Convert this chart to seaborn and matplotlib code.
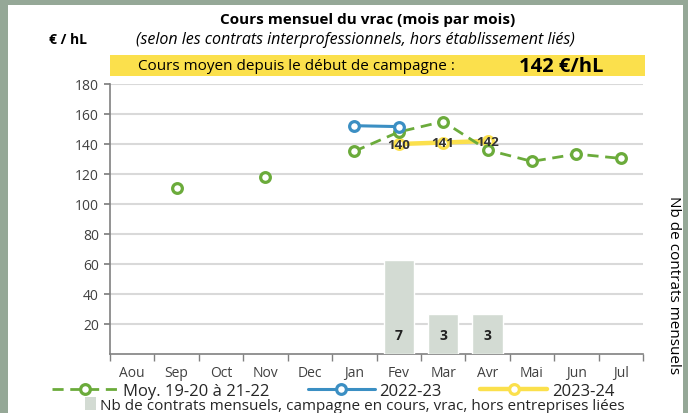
import numpy as np
import pandas as pd
import matplotlib.pyplot as plt
import seaborn as sns
from matplotlib.lines import Line2D
from matplotlib.patches import Rectangle

# values
months = ['Aou', 'Sep', 'Oct', 'Nov', 'Dec', 'Jan', 'Fev', 'Mar', 'Avr', 'Mai', 'Jun', 'Jul']
moy_3ans = [np.nan, 110.7, np.nan, 118.2, np.nan, 135.1, 148.0, 155.0, 136.0, 128.4, 133.3, 130.4]
camp_2223 = [np.nan, np.nan, np.nan, np.nan, np.nan, 152.2, 151.6, np.nan, np.nan, np.nan, np.nan, np.nan]
camp_2324 = [np.nan, np.nan, np.nan, np.nan, np.nan, np.nan, 140, 141, 142, np.nan, np.nan, np.nan]
bar_months = ['Fev', 'Mar', 'Avr']
nb_contrats = [7, 3, 3]
cours_moyen = 142

green = '#6bab3b'
blue = '#3b8fc3'
yellow = '#fbe04c'
bar_col = '#d3dbd3'
grid_col = '#d9d9d9'
txt_col = '#404040'

sns.set_theme(style='white')
plt.rcParams['font.family'] = ['Open Sans', 'DejaVu Sans']

W, H = 688, 414
fig = plt.figure(figsize=(W / 100, H / 100), dpi=100)
fig.patch.set_facecolor('#95a897')
fig.patches.append(Rectangle((8 / W, 0), (683 - 8) / W, 1 - 6 / H, transform=fig.transFigure,
                             facecolor='white', edgecolor='none', zorder=-5))

def px(x, y):
    return x / W, 1 - y / H

l, r, top, bot = 110, 643, 85, 355
rect = [l / W, 1 - bot / H, (r - l) / W, (bot - top) / H]
ax = fig.add_axes(rect)
ax.set_facecolor('none')

# background axis: grid and ticks
xpos = np.arange(len(months))
ax.set_xlim(-0.5, len(months) - 0.5)
ax.set_ylim(0, 180)
ax.set_yticks(range(20, 181, 20))
ax.set_xticks(xpos)
ax.set_xticklabels(months, fontsize=10, color=txt_col)
ax.set_xticks(np.arange(-0.5, len(months), 1), minor=True)
ax.tick_params(axis='y', labelsize=10, labelcolor=txt_col, left=True, length=4, color='#808080', pad=4)
ax.tick_params(axis='x', which='major', length=0, pad=8)
ax.tick_params(axis='x', which='minor', length=5, color='#808080', bottom=True)
ax.grid(axis='y', color=grid_col, linewidth=1.5)
for s in ['top', 'right']:
    ax.spines[s].set_visible(False)
for s in ['left', 'bottom']:
    ax.spines[s].set_color('#808080')
    ax.spines[s].set_linewidth(1.2)

# bars on a secondary scale
axb = ax.twinx()
axb.set_ylim(0, 20)
df_bar = pd.DataFrame({'mois': bar_months, 'nb': nb_contrats})
sns.barplot(data=df_bar, x='mois', y='nb', order=months, color=bar_col, saturation=1,
            width=0.68, ax=axb)
axb.set_xlim(-0.5, len(months) - 0.5)
for m, n in zip(bar_months, nb_contrats):
    axb.text(months.index(m), 1.4, str(n), ha='center', va='center', fontsize=10,
             fontweight='bold', color='#222222')
axb.set_axis_off()

# lines on top
axl = ax.twinx()
axl.set_ylim(0, 180)
axl.set_xlim(-0.5, len(months) - 0.5)
axl.set_axis_off()

def draw_runs(vals, color, ls, lw, zo):
    vals = np.array(vals, dtype=float)
    ok = ~np.isnan(vals)
    i = 0
    while i < len(vals):
        if ok[i]:
            j = i
            while j + 1 < len(vals) and ok[j + 1]:
                j += 1
            d = pd.DataFrame({'x': xpos[i:j + 1], 'y': vals[i:j + 1]})
            sns.lineplot(data=d, x='x', y='y', ax=axl, color=color, linestyle=ls, linewidth=lw,
                         marker='o', markersize=7, markerfacecolor='white', markeredgecolor=color,
                         markeredgewidth=2.3, zorder=zo)
            i = j + 1
        else:
            i += 1

draw_runs(camp_2324, yellow, '-', 3.2, 3)
draw_runs(moy_3ans, green, (0, (4, 2.4)), 2.0, 4)
draw_runs(camp_2223, blue, '-', 2.2, 5)
axl.set_xlabel('')
axl.set_ylabel('')
for xi, v in zip(xpos, camp_2324):
    if not np.isnan(v):
        axl.text(xi, v, f'{v:.0f}', ha='center', va='center', fontsize=9.5, fontweight='bold',
                 color='#333333', zorder=6)

# titles and texts
fig.text(*px(368, 20), 'Cours mensuel du vrac (mois par mois)', ha='center', va='center',
         fontsize=11, fontweight='bold', color='black')
fig.text(*px(355, 40), '(selon les contrats interprofessionnels, hors établissement liés)',
         ha='center', va='center', fontsize=11.5, style='italic', color='black')
fig.text(*px(68, 40), '€ / hL', ha='center', va='center', fontsize=10, fontweight='bold', color='black')
fig.patches.append(Rectangle(px(110, 77), (645 - 110) / W, 21 / H, transform=fig.transFigure,
                             facecolor=yellow, edgecolor='none', zorder=1))
fig.text(*px(296, 66.5), 'Cours moyen depuis le début de campagne :', ha='center', va='center',
         fontsize=11, color='black')
fig.text(*px(561, 66.5), f'{cours_moyen} €/hL', ha='center', va='center', fontsize=14.5,
         fontweight='bold', color='black')
fig.text(*px(673, 285), 'Nb de contrats mensuels', ha='center', va='center', rotation=270,
         fontsize=11, color='black')

# legend
handles = [
    Line2D([], [], color=green, linestyle=(0, (4, 2.4)), linewidth=2.0, marker='o', markersize=7,
           markerfacecolor='white', markeredgecolor=green, markeredgewidth=2.3),
    Line2D([], [], color=blue, linewidth=2.2, marker='o', markersize=7,
           markerfacecolor='white', markeredgecolor=blue, markeredgewidth=2.3),
    Line2D([], [], color=yellow, linewidth=3.2, marker='o', markersize=7,
           markerfacecolor='white', markeredgecolor=yellow, markeredgewidth=2.3),
]
fig.legend(handles, ['Moy. 19-20 à 21-22', '2022-23', '2023-24'], loc='center',
           bbox_to_anchor=px(333, 392), ncol=3, frameon=False, fontsize=12, handlelength=4.0,
           columnspacing=2.3, handletextpad=0.3, borderpad=0)
fig.legend([Rectangle((0, 0), 1, 1, facecolor=bar_col, edgecolor='none')],
           ['Nb de contrats mensuels, campagne en cours, vrac, hors entreprises liées'],
           loc='center', bbox_to_anchor=px(355, 406), frameon=False, fontsize=11,
           handlelength=0.7, handleheight=0.9, handletextpad=0.3, borderpad=0)

fig.savefig('out.png', dpi=100, facecolor=fig.get_facecolor())
